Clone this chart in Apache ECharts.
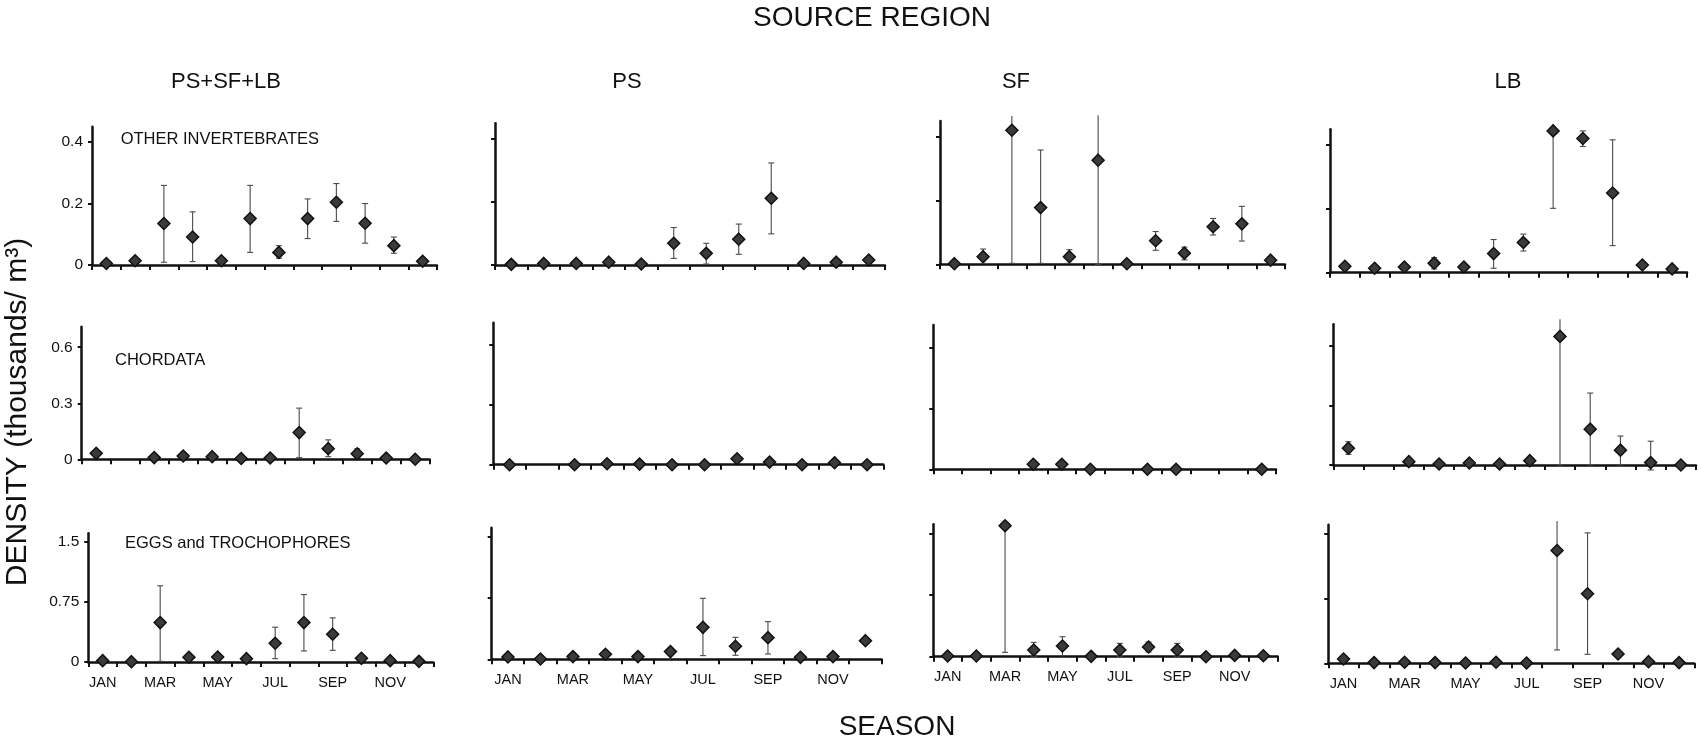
<!DOCTYPE html>
<html>
<head>
<meta charset="utf-8">
<script src="https://cdn.jsdelivr.net/npm/echarts@6/dist/echarts.min.js"></script>
<style>
  html, body { margin: 0; padding: 0; background: #fff; }
  #chart { width: 1701px; height: 746px; }
</style>
</head>
<body>
<div id="chart"></div>
<script>
// Months on every x axis
const months = ['JAN','FEB','MAR','APR','MAY','JUN','JUL','AUG','SEP','OCT','NOV','DEC'];
const regions = ['PS+SF+LB', 'PS', 'SF', 'LB'];
const groups = ['OTHER INVERTEBRATES', 'CHORDATA', 'EGGS and TROCHOPHORES'];
const yTicks = [[0, 0.2, 0.4], [0, 0.3, 0.6], [0, 0.75, 1.5]];

// OTHER INVERTEBRATES: monthly mean density and [low, high] error limits
const invAll   = [0.005, 0.014, 0.135, 0.091, 0.014, 0.151, 0.041, 0.151, 0.204, 0.136, 0.063, 0.012];
const invAllE  = [null, null, [0.009, 0.259], [0.011, 0.173], null, [0.041, 0.259], [0.022, 0.063], [0.086, 0.215], [0.142, 0.265], [0.071, 0.200], [0.038, 0.091], null];
const invPS    = [0.002, 0.005, 0.005, 0.009, 0.003, 0.069, 0.037, 0.082, 0.212, 0.005, 0.009, 0.016];
const invPSE   = [null, null, null, null, null, [0.021, 0.119], [0.003, 0.069], [0.034, 0.130], [0.099, 0.324], null, null, null];
const invSF    = [0.002, 0.024, 0.421, 0.178, 0.024, 0.327, 0.002, 0.074, 0.035, 0.118, 0.127, 0.013];
const invSFE   = [null, [0.003, 0.048], [0.003, 0.466], [0.003, 0.359], [0.003, 0.046], [0.0, 0.468], null, [0.044, 0.103], [0.014, 0.054], [0.092, 0.144], [0.073, 0.182], null];
const invLB    = [0.020, 0.014, 0.018, 0.030, 0.018, 0.060, 0.095, 0.445, 0.421, 0.250, 0.024, 0.012];
const invLBE   = [null, null, null, [0.012, 0.047], null, [0.014, 0.104], [0.068, 0.121], [0.202, 0.467], [0.396, 0.445], [0.085, 0.417], null, null];

// CHORDATA
const chdAll   = [0.032, null, 0.009, 0.018, 0.014, 0.004, 0.007, 0.143, 0.057, 0.030, 0.007, 0.000];
const chdAllE  = [null, null, null, null, null, null, null, [0.009, 0.274], [0.014, 0.104], [0.010, 0.056], null, null];
const chdPS    = [0.000, null, 0.000, 0.005, 0.003, 0.000, 0.000, 0.030, 0.013, 0.000, 0.010, 0.000];
const chdPSE   = [null, null, null, null, null, null, null, null, null, null, null, null];
const chdSF    = [null, null, null, 0.025, 0.025, 0.000, null, 0.000, 0.000, null, null, 0.000];
const chdSFE   = [null, null, null, null, null, null, null, null, null, null, null, null];
const chdLB    = [0.085, null, 0.017, 0.005, 0.010, 0.005, 0.022, 0.649, 0.181, 0.075, 0.012, 0.000];
const chdLBE   = [[0.054, 0.117], null, null, null, null, null, null, [0.0, 0.735], [0.0, 0.363], [0.0, 0.146], [-0.025, 0.120], null];

// EGGS and TROCHOPHORES
const eggAll   = [0.017, 0.004, 0.493, 0.059, 0.063, 0.042, 0.234, 0.493, 0.347, 0.046, 0.017, 0.008];
const eggAllE  = [null, null, [0.008, 0.953], null, null, null, [0.042, 0.435], [0.138, 0.844], [0.146, 0.552], null, null, null];
const eggPS    = [0.029, 0.004, 0.033, 0.061, 0.033, 0.094, 0.391, 0.159, 0.265, 0.024, 0.033, 0.228];
const eggPSE   = [null, null, null, null, null, null, [0.045, 0.746], [0.049, 0.269], [0.065, 0.461], null, null, null];
const eggSF    = [0.008, 0.008, 1.593, 0.081, 0.130, 0.004, 0.081, 0.118, 0.081, 0.000, 0.016, 0.012];
const eggSFE   = [null, null, [0.053, 1.662], [0.0, 0.174], [0.012, 0.243], null, [0.0, 0.162], [0.057, 0.178], [0.0, 0.162], null, null, null];
const eggLB    = [0.050, 0.008, 0.012, 0.008, 0.004, 0.012, 0.004, 1.310, 0.808, 0.108, 0.019, 0.008];
const eggLBE   = [null, null, null, null, null, null, null, [0.155, 1.654], [0.104, 1.515], null, null, null];

const means = [
  [invAll, invPS, invSF, invLB],
  [chdAll, chdPS, chdSF, chdLB],
  [eggAll, eggPS, eggSF, eggLB]
];
const errs = [
  [invAllE, invPSE, invSFE, invLBE],
  [chdAllE, chdPSE, chdSFE, chdLBE],
  [eggAllE, eggPSE, eggSFE, eggLBE]
];

// Panel placement (pixels): left edge, width, top of y axis, zero line
const layout = {
  left:  [[92, 495, 940, 1330], [81.7, 493.3, 933.3, 1333.3], [88.3, 491.7, 933.3, 1328.3]],
  width: [[345, 390, 345, 357], [348, 390, 342.7, 362.7], [345, 390, 344.4, 366]],
  top:   [[126.7, 123.3, 121, 129.3], [326.7, 322.7, 325, 324.3], [533.3, 527.7, 524.3, 524.7]],
  zero:  [[265, 265, 264.3, 272.7], [459.3, 464.7, 469.3, 465], [662, 659.3, 656.7, 663.3]],
  yMax:  [0.45, 0.71, 1.61]
};

const FONT = '"Liberation Sans", Arial, Helvetica, sans-serif';
const INK = '#111';

const grid = [], xAxis = [], yAxis = [], series = [];

function renderErr(params, api) {
  const x = api.value(0);
  const pLo = api.coord([x, api.value(1)]);
  const pHi = api.coord([x, api.value(2)]);
  const cap = 3;
  const style = { stroke: '#4a4a4a', lineWidth: 1.1 };
  const children = [
    { type: 'line', shape: { x1: pLo[0], y1: pLo[1], x2: pHi[0], y2: pHi[1] }, style }
  ];
  const top = params.coordSys.y;
  if (pHi[1] >= top - 2) {
    children.push({ type: 'line', shape: { x1: pHi[0] - cap, y1: pHi[1], x2: pHi[0] + cap, y2: pHi[1] }, style });
  }
  children.push({ type: 'line', shape: { x1: pLo[0] - cap, y1: pLo[1], x2: pLo[0] + cap, y2: pLo[1] }, style });
  return { type: 'group', children };
}

for (let r = 0; r < 3; r++) {
  for (let c = 0; c < 4; c++) {
    const i = grid.length;
    grid.push({
      left: layout.left[r][c],
      top: layout.top[r][c],
      width: layout.width[r][c],
      height: layout.zero[r][c] - layout.top[r][c]
    });
    xAxis.push({
      type: 'category',
      gridIndex: i,
      data: months,
      boundaryGap: true,
      axisLine: { lineStyle: { color: INK, width: 2.5 } },
      axisTick: { show: true, interval: 0, length: 5, lineStyle: { color: INK, width: 2 } },
      axisLabel: {
        show: r === 2,
        interval: 1,
        margin: 13,
        fontFamily: FONT,
        fontSize: 14.5,
        color: INK
      },
      splitLine: { show: false }
    });
    yAxis.push({
      type: 'value',
      gridIndex: i,
      min: 0,
      max: layout.yMax[r],
      axisLine: { show: true, lineStyle: { color: INK, width: 2.5 } },
      axisTick: { show: true, length: 4, customValues: yTicks[r], lineStyle: { color: INK, width: 2 } },
      axisLabel: {
        show: c === 0,
        customValues: yTicks[r],
        margin: 9,
        fontFamily: FONT,
        fontSize: 15.5,
        color: INK
      },
      splitLine: { show: false }
    });
    const errData = [];
    errs[r][c].forEach((e, k) => { if (e) errData.push([k, e[0], e[1]]); });
    series.push({
      type: 'custom',
      xAxisIndex: i,
      yAxisIndex: i,
      renderItem: renderErr,
      data: errData,
      clip: false,
      silent: true,
      z: 2
    });
    series.push({
      type: 'scatter',
      xAxisIndex: i,
      yAxisIndex: i,
      symbol: 'diamond',
      symbolSize: 12,
      data: means[r][c].map(v => (v === null ? '-' : v)),
      itemStyle: { color: '#3a3a3a', borderColor: '#111', borderWidth: 1.5, opacity: 1 },
      clip: false,
      silent: true,
      z: 3
    });
  }
}

// Headings and axis titles
const graphic = [
  { type: 'text', x: 872, y: 18, style: { text: 'SOURCE REGION', font: '28px ' + FONT, fill: INK, textAlign: 'center', textVerticalAlign: 'middle' } },
  { type: 'text', x: 226, y: 82, style: { text: regions[0], font: '22px ' + FONT, fill: INK, textAlign: 'center', textVerticalAlign: 'middle' } },
  { type: 'text', x: 627, y: 82, style: { text: regions[1], font: '22px ' + FONT, fill: INK, textAlign: 'center', textVerticalAlign: 'middle' } },
  { type: 'text', x: 1016, y: 82, style: { text: regions[2], font: '22px ' + FONT, fill: INK, textAlign: 'center', textVerticalAlign: 'middle' } },
  { type: 'text', x: 1508, y: 82, style: { text: regions[3], font: '22px ' + FONT, fill: INK, textAlign: 'center', textVerticalAlign: 'middle' } },
  { type: 'text', x: 120.7, y: 139, style: { text: groups[0], font: '16.5px ' + FONT, fill: INK, textVerticalAlign: 'middle' } },
  { type: 'text', x: 115, y: 360, style: { text: groups[1], font: '16.5px ' + FONT, fill: INK, textVerticalAlign: 'middle' } },
  { type: 'text', x: 125, y: 543.3, style: { text: groups[2], font: '16.5px ' + FONT, fill: INK, textVerticalAlign: 'middle' } },
  { type: 'text', x: 18, y: 412, rotation: Math.PI / 2, style: { text: 'DENSITY (thousands/ m\u00B3)', font: '30px ' + FONT, fill: INK, textAlign: 'center', textVerticalAlign: 'middle' } },
  { type: 'text', x: 897, y: 727, style: { text: 'SEASON', font: '28px ' + FONT, fill: INK, textAlign: 'center', textVerticalAlign: 'middle' } }
];

const chart = echarts.init(document.getElementById('chart'), null, { renderer: 'canvas' });
chart.setOption({
  animation: false,
  backgroundColor: '#fff',
  grid, xAxis, yAxis, series, graphic
});
</script>
</body>
</html>
